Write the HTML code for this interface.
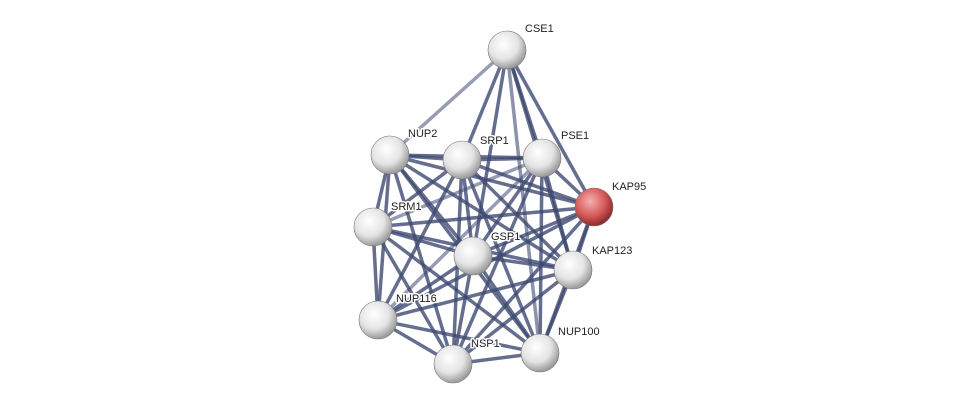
<!DOCTYPE html>
<html><head><meta charset="utf-8"><style>
html,body{margin:0;padding:0;background:#fff;}
svg{display:block}
text{font-family:"Liberation Sans",sans-serif;font-size:11px;fill:#222;paint-order:stroke;stroke:#fff;stroke-width:3px;stroke-linejoin:round;}
</style></head><body>
<svg width="975" height="409" viewBox="0 0 975 409" xmlns="http://www.w3.org/2000/svg">
<defs>
<radialGradient id="g" cx="40%" cy="35%" r="65%">
<stop offset="0" stop-color="#ffffff"/><stop offset="0.6" stop-color="#e4e4e4"/><stop offset="1" stop-color="#9a9a9a"/>
</radialGradient>
<radialGradient id="r" cx="40%" cy="35%" r="65%">
<stop offset="0" stop-color="#f4b0b0"/><stop offset="0.6" stop-color="#d65a5a"/><stop offset="1" stop-color="#8e2a2a"/>
</radialGradient>
</defs>
<g stroke="#3f4a72" stroke-linecap="round" fill="none" stroke-width="3.5" stroke-opacity="0.8">
<line x1="507" y1="50" x2="390" y2="155" stroke-opacity="0.55"/>
<line x1="507" y1="50" x2="462" y2="160"/>
<line x1="507" y1="50" x2="542" y2="158"/>
<line x1="507" y1="50" x2="594" y2="207"/>
<line x1="507" y1="50" x2="473" y2="256"/>
<line x1="507" y1="50" x2="573" y2="270"/>
<line x1="507" y1="50" x2="540" y2="353" stroke-opacity="0.6"/>
<line x1="390" y1="155" x2="462" y2="160"/>
<line x1="390" y1="155" x2="542" y2="158"/>
<line x1="390" y1="155" x2="373" y2="227"/>
<line x1="390" y1="155" x2="473" y2="256"/>
<line x1="390" y1="155" x2="378" y2="320"/>
<line x1="390" y1="155" x2="453" y2="364"/>
<line x1="390" y1="155" x2="540" y2="353"/>
<line x1="390" y1="155" x2="594" y2="207"/>
<line x1="390" y1="155" x2="573" y2="270"/>
<line x1="462" y1="160" x2="542" y2="158"/>
<line x1="462" y1="160" x2="594" y2="207"/>
<line x1="462" y1="160" x2="373" y2="227"/>
<line x1="462" y1="160" x2="473" y2="256"/>
<line x1="462" y1="160" x2="573" y2="270"/>
<line x1="462" y1="160" x2="378" y2="320"/>
<line x1="462" y1="160" x2="453" y2="364"/>
<line x1="462" y1="160" x2="540" y2="353"/>
<line x1="542" y1="158" x2="594" y2="207"/>
<line x1="542" y1="158" x2="373" y2="227" stroke-opacity="0.55"/>
<line x1="542" y1="158" x2="473" y2="256"/>
<line x1="542" y1="158" x2="573" y2="270"/>
<line x1="542" y1="158" x2="540" y2="353"/>
<line x1="542" y1="158" x2="453" y2="364"/>
<line x1="542" y1="158" x2="378" y2="320" stroke-opacity="0.55"/>
<line x1="594" y1="207" x2="373" y2="227"/>
<line x1="594" y1="207" x2="473" y2="256"/>
<line x1="594" y1="207" x2="573" y2="270"/>
<line x1="594" y1="207" x2="540" y2="353"/>
<line x1="594" y1="207" x2="453" y2="364"/>
<line x1="594" y1="207" x2="378" y2="320"/>
<line x1="373" y1="227" x2="473" y2="256"/>
<line x1="373" y1="227" x2="573" y2="270"/>
<line x1="373" y1="227" x2="378" y2="320"/>
<line x1="373" y1="227" x2="453" y2="364"/>
<line x1="373" y1="227" x2="540" y2="353"/>
<line x1="473" y1="256" x2="573" y2="270"/>
<line x1="473" y1="256" x2="378" y2="320"/>
<line x1="473" y1="256" x2="453" y2="364"/>
<line x1="473" y1="256" x2="540" y2="353"/>
<line x1="573" y1="270" x2="540" y2="353"/>
<line x1="573" y1="270" x2="453" y2="364"/>
<line x1="573" y1="270" x2="378" y2="320"/>
<line x1="378" y1="320" x2="453" y2="364"/>
<line x1="378" y1="320" x2="540" y2="353"/>
<line x1="453" y1="364" x2="540" y2="353"/>
</g>
<g stroke="#777" stroke-width="0.6">
<circle cx="507" cy="50" r="19" fill="url(#g)"/>
<circle cx="390" cy="155" r="19" fill="url(#g)"/>
<circle cx="462" cy="160" r="19" fill="url(#g)"/>
<circle cx="542" cy="158" r="19" fill="url(#g)"/>
<circle cx="594" cy="207" r="19" fill="url(#r)"/>
<circle cx="373" cy="227" r="19" fill="url(#g)"/>
<circle cx="473" cy="256" r="19" fill="url(#g)"/>
<circle cx="573" cy="270" r="19" fill="url(#g)"/>
<circle cx="378" cy="320" r="19" fill="url(#g)"/>
<circle cx="453" cy="364" r="19" fill="url(#g)"/>
<circle cx="540" cy="353" r="19" fill="url(#g)"/>
</g>
<text x="525" y="32">CSE1</text>
<text x="408" y="137">NUP2</text>
<text x="480" y="144">SRP1</text>
<text x="561" y="139">PSE1</text>
<text x="612" y="190">KAP95</text>
<text x="391" y="210">SRM1</text>
<text x="491" y="240">GSP1</text>
<text x="592" y="254">KAP123</text>
<text x="396" y="302">NUP116</text>
<text x="471" y="347">NSP1</text>
<text x="558" y="335">NUP100</text>
</svg>
</body></html>
